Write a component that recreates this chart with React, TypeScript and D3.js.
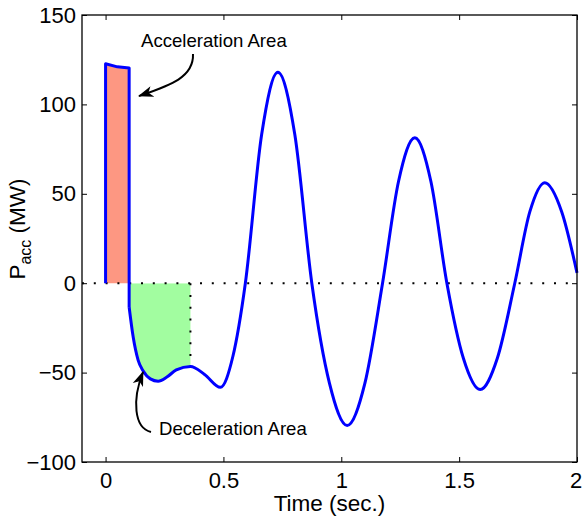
import React, { useEffect, useRef } from "react";
import * as d3 from "d3";

// fault-on period (acceleration) : time (s) and accelerating power (MW)
const accelTime = [0, 0, 0.05, 0.1, 0.1];
const accelPower = [0, 122.7, 121.0, 120.3, -13.4];

// post-fault swing
const postTime = [0.1, 0.117, 0.138, 0.159, 0.19, 0.223, 0.26, 0.3, 0.36, 0.42, 0.487, 0.54, 0.593, 0.662, 0.731, 0.803, 0.875, 0.95, 1.025, 1.1, 1.175, 1.243, 1.312, 1.38, 1.448, 1.518, 1.589, 1.662, 1.736, 1.8, 1.863, 1.935, 2.0];
const postPower = [-13.4, -30, -43, -49, -53.5, -54.8, -52.5, -48.5, -46.6, -51, -58.2, -41, 0, 83, 118, 83, 0, -56, -79.6, -56, 0, 57, 81.3, 57, 0, -42, -59.5, -42, 0, 40, 56.2, 40, 5.8];

const clearTime = 0.36;

const xTicks = [0, 0.5, 1, 1.5, 2];
const yTicks = [-100, -50, 0, 50, 100, 150];

const W = 582, H = 517;
const FONT = "'Liberation Sans', Arial, Helvetica, sans-serif";

export default function App() {
    const svgRef = useRef<SVGSVGElement | null>(null);

    useEffect(() => {
        const svg = d3.select(svgRef.current);
        svg.selectAll("*").remove();

        const x = d3.scaleLinear().domain([-0.1, 2]).range([82, 577]);
        const y = d3.scaleLinear().domain([-100, 150]).range([462, 15]);

        const defs = svg.append("defs");
        defs.append("clipPath").attr("id", "decel-clip")
            .append("rect")
            .attr("x", x(0.1)).attr("y", y(0))
            .attr("width", x(clearTime) - x(0.1))
            .attr("height", y(-100) - y(0));
        defs.append("marker")
            .attr("id", "head")
            .attr("viewBox", "0 -6 15 12")
            .attr("markerUnits", "userSpaceOnUse")
            .attr("markerWidth", 15).attr("markerHeight", 12)
            .attr("refX", 14).attr("refY", 0)
            .attr("orient", "auto")
            .append("path")
            .attr("d", "M0,-5.5L15,0L0,5.5L4,0Z")
            .attr("fill", "#000");

        const post = postTime.map((t, i) => [t, postPower[i]] as [number, number]);
        const accel = accelTime.map((t, i) => [t, accelPower[i]] as [number, number]);

        // acceleration area (red)
        const accelTop = accel.slice(1, 4);
        svg.append("path")
            .attr("d", d3.area<[number, number]>()
                .x(d => x(d[0])).y0(y(0)).y1(d => y(d[1]))
                .curve(d3.curveMonotoneX)(accelTop))
            .attr("fill", "#fd9782");

        // deceleration area (green)
        svg.append("path")
            .attr("d", d3.area<[number, number]>()
                .x(d => x(d[0])).y0(y(0)).y1(d => y(d[1]))
                .curve(d3.curveMonotoneX)(post))
            .attr("clip-path", "url(#decel-clip)")
            .attr("fill", "#a2fda0");

        // dotted zero line and clearing line
        svg.append("line")
            .attr("x1", x(-0.1)).attr("x2", x(2))
            .attr("y1", y(0)).attr("y2", y(0))
            .attr("stroke", "#000").attr("stroke-width", 2)
            .attr("stroke-dasharray", "2,9.8");
        const postAt = postPower[postTime.indexOf(clearTime)];
        svg.append("line")
            .attr("x1", x(clearTime)).attr("x2", x(clearTime))
            .attr("y1", y(0)).attr("y2", y(postAt))
            .attr("stroke", "#000").attr("stroke-width", 2)
            .attr("stroke-dasharray", "2,9.8");

        // curves
        svg.append("path")
            .attr("d", d3.line<[number, number]>().x(d => x(d[0])).y(d => y(d[1]))(accel))
            .attr("fill", "none").attr("stroke", "#0000ff")
            .attr("stroke-width", 3).attr("stroke-linejoin", "round");
        svg.append("path")
            .attr("d", d3.line<[number, number]>().x(d => x(d[0])).y(d => y(d[1]))
                .curve(d3.curveMonotoneX)(post))
            .attr("fill", "none").attr("stroke", "#0000ff")
            .attr("stroke-width", 3).attr("stroke-linejoin", "round");

        // axes
        const tickFontSize = "22px";
        const bottom = svg.append("g").attr("transform", `translate(0,${y(-100)})`)
            .call(d3.axisBottom(x).tickValues(xTicks).tickSizeInner(-5).tickSizeOuter(0).tickPadding(10)
                .tickFormat(d => String(d)));
        const top = svg.append("g").attr("transform", `translate(0,${y(150)})`)
            .call(d3.axisTop(x).tickValues(xTicks).tickSizeInner(-5).tickSizeOuter(0).tickFormat(() => ""));
        const left = svg.append("g").attr("transform", `translate(${x(-0.1)},0)`)
            .call(d3.axisLeft(y).tickValues(yTicks).tickSizeInner(-5).tickSizeOuter(0).tickPadding(6)
                .tickFormat(d => (+d < 0 ? "\u2212" + Math.abs(+d) : String(d))));
        const right = svg.append("g").attr("transform", `translate(${x(2)},0)`)
            .call(d3.axisRight(y).tickValues(yTicks).tickSizeInner(-5).tickSizeOuter(0).tickFormat(() => ""));
        [bottom, top, left, right].forEach(a => {
            a.select(".domain").remove();
            a.selectAll("line").attr("stroke", "#000").attr("stroke-width", 1);
            a.selectAll("text").attr("font-family", FONT).attr("font-size", tickFontSize).attr("fill", "#000");
        });
        // last x label sits on the page edge
        bottom.selectAll<SVGTextElement, number>("text").filter(d => d === 2).attr("dx", -1.5);

        svg.append("rect")
            .attr("x", x(-0.1)).attr("y", y(150))
            .attr("width", x(2) - x(-0.1)).attr("height", y(-100) - y(150))
            .attr("fill", "none").attr("stroke", "#000").attr("stroke-width", 1.3);

        // axis titles
        svg.append("text")
            .attr("x", (x(-0.1) + x(2)) / 2).attr("y", 511)
            .attr("text-anchor", "middle")
            .attr("font-family", FONT).attr("font-size", "22.5px")
            .text("Time (sec.)");

        const yl = svg.append("text")
            .attr("transform", `translate(25,229) rotate(-90)`)
            .attr("text-anchor", "middle")
            .attr("font-family", FONT).attr("font-size", "22.5px");
        yl.append("tspan").text("P");
        yl.append("tspan").attr("font-size", "16px").attr("dy", "6").text("acc");
        yl.append("tspan").attr("dy", "-6").text("\u00a0(MW)");

        // annotations
        svg.append("text")
            .attr("x", 141).attr("y", 47)
            .attr("font-family", FONT).attr("font-size", "18.6px")
            .text("Acceleration Area");
        svg.append("path")
            .attr("d", "M193,54 C194,78 168,86 139,96")
            .attr("fill", "none").attr("stroke", "#000").attr("stroke-width", 2)
            .attr("marker-end", "url(#head)");

        svg.append("text")
            .attr("x", 159).attr("y", 435)
            .attr("font-family", FONT).attr("font-size", "18.6px")
            .text("Deceleration Area");
        svg.append("path")
            .attr("d", "M151,432 C134,428 132,400 143,372")
            .attr("fill", "none").attr("stroke", "#000").attr("stroke-width", 2)
            .attr("marker-end", "url(#head)");
    }, []);

    return (
        <svg ref={svgRef} width={W} height={H}
            style={{ position: "absolute", left: 0, top: 0, background: "#fff" }} />
    );
}
